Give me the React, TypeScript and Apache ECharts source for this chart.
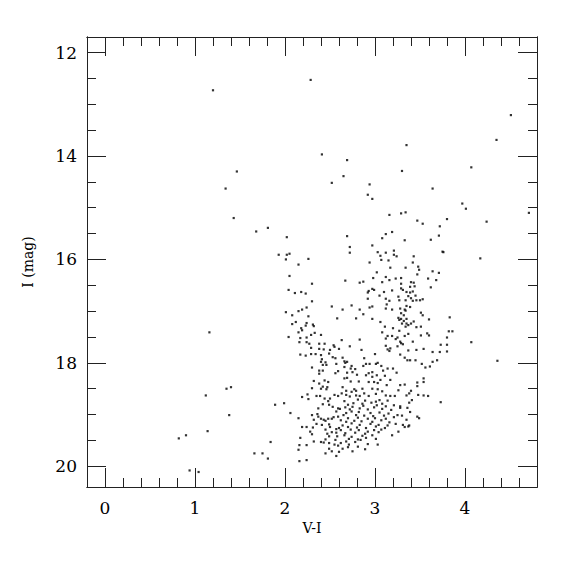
import React, { useEffect, useRef } from "react";
import * as echarts from "echarts";

// Axis tick values
const xMajorTicks = [0, 1, 2, 3, 4];
const xMinorTicks = [0.2, 0.4, 0.6, 0.8, 1.2, 1.4, 1.6, 1.8, 2.2, 2.4, 2.6, 2.8, 3.2, 3.4, 3.6, 3.8, 4.2, 4.4, 4.6];
const yMajorTicks = [12, 14, 16, 18, 20];
const yMinorTicks = [12.5, 13, 13.5, 14.5, 15, 15.5, 16.5, 17, 17.5, 18.5, 19, 19.5];

// Stars: [V-I, I]
const brightStars: [number, number][] = [
  [1.20, 12.73], [1.465, 14.30], [1.34, 14.63], [1.43, 15.20], [1.68, 15.46], [1.81, 15.39], [2.02, 15.57],
  [2.285, 12.53], [2.41, 13.97], [2.69, 14.08], [2.52, 14.52], [2.65, 14.39], [2.94, 14.55], [2.92, 14.75],
  [2.97, 14.83], [3.35, 13.79], [3.30, 14.29], [3.64, 14.63], [3.16, 15.14], [3.29, 15.11], [3.34, 15.09],
  [3.47, 15.25], [3.53, 15.31], [3.72, 15.36], [3.80, 15.22], [3.97, 14.92], [4.01, 15.02], [4.07, 14.22],
  [4.24, 15.27], [4.35, 13.69], [4.51, 13.21], [4.71, 15.10],
];

const blueStars: [number, number][] = [
  [1.16, 17.41], [1.12, 18.63], [1.35, 18.50], [1.40, 18.47], [1.38, 19.01], [1.14, 19.32], [0.82, 19.46],
  [0.90, 19.40], [0.94, 20.08], [1.04, 20.11],
  [1.89, 18.81], [1.99, 18.78], [2.06, 18.97], [2.15, 19.07], [1.84, 19.53], [1.66, 19.75], [1.75, 19.75],
  [1.81, 19.85],
];

const upperBranch: [number, number][] = [
  [1.93, 15.91], [2.02, 15.91], [2.05, 15.89], [2.01, 16.00], [2.26, 15.99], [2.15, 16.10], [2.05, 16.32],
  [2.30, 16.47], [2.04, 16.59], [2.11, 16.65], [2.18, 16.63], [2.23, 16.66], [2.30, 16.81], [2.52, 16.91],
  [2.58, 17.14], [2.01, 17.02], [2.08, 17.08], [2.15, 17.00], [2.19, 16.97], [2.24, 16.93], [2.26, 17.10],
  [2.12, 17.21], [2.24, 17.23], [2.08, 17.25], [2.23, 17.28], [2.31, 17.26], [2.32, 17.29], [2.18, 17.33],
  [2.69, 15.55], [3.12, 15.51], [3.19, 15.47], [3.08, 15.59], [3.33, 15.63], [3.62, 15.62], [3.71, 15.54],
  [2.72, 15.76], [2.72, 15.87], [2.97, 15.73], [3.03, 15.86], [3.12, 15.87], [3.21, 15.83], [3.21, 15.91],
  [3.24, 15.94], [3.06, 15.93], [3.07, 16.01], [3.15, 16.02], [2.94, 16.06], [3.43, 15.94], [3.42, 16.06],
  [3.48, 16.14], [3.34, 16.16], [3.17, 16.16], [3.49, 16.20], [3.02, 16.25], [3.47, 16.29], [3.64, 16.23],
  [3.71, 16.26], [2.67, 16.41], [2.83, 16.45], [2.87, 16.43], [2.98, 16.36], [3.12, 16.34], [3.16, 16.40],
  [3.23, 16.37], [3.29, 16.36], [3.08, 16.44], [3.29, 16.47], [3.40, 16.44], [3.43, 16.45], [3.59, 16.37],
  [3.68, 16.40], [3.62, 16.54], [2.93, 16.61], [2.92, 16.64], [2.97, 16.57], [2.99, 16.59], [3.10, 16.63],
  [3.19, 16.60], [3.29, 16.56], [3.31, 16.59], [3.39, 16.53], [3.44, 16.52], [3.35, 16.63], [3.39, 16.64],
  [3.42, 16.62], [3.05, 16.70], [3.12, 16.76], [3.16, 16.80], [3.26, 16.72], [3.27, 16.79], [3.34, 16.79],
  [3.37, 16.71], [3.40, 16.75], [3.45, 16.70], [3.42, 16.80], [3.46, 16.79], [3.50, 16.79], [3.53, 16.77],
  [2.92, 16.76], [2.64, 16.97], [2.74, 16.89], [2.83, 16.97], [2.94, 16.93], [2.97, 16.91], [3.13, 16.87],
  [3.12, 16.95], [3.19, 16.97], [3.28, 16.95], [3.33, 16.97], [3.35, 16.90], [3.39, 16.92], [3.29, 17.04],
  [3.32, 17.08], [3.34, 16.99], [3.51, 17.03], [3.53, 17.08], [2.87, 17.06], [2.79, 17.14], [2.97, 17.15],
  [3.06, 17.21], [3.11, 17.30], [3.20, 17.33], [3.26, 17.13], [3.29, 17.15], [3.27, 17.17], [3.32, 17.19],
  [3.35, 17.15], [3.30, 17.24], [3.35, 17.24], [3.37, 17.27], [3.40, 17.24], [3.43, 17.20], [3.34, 17.30],
  [3.51, 17.30], [3.60, 17.16], [3.46, 17.31],
  [3.75, 15.85], [3.76, 15.86], [4.17, 15.98], [3.83, 17.12], [3.82, 17.39], [3.86, 17.39], [3.80, 17.51],
  [3.73, 17.65], [3.80, 17.65], [3.72, 17.79], [3.80, 17.78], [4.07, 17.60], [4.36, 17.96], [3.73, 18.76],
];

const middleBranch: [number, number][] = [
  [2.15, 17.41], [2.19, 17.37], [2.33, 17.42], [2.40, 17.46], [2.29, 17.46], [2.24, 17.51], [2.04, 17.50],
  [2.17, 17.52], [2.16, 17.60], [2.24, 17.60], [2.27, 17.63], [2.38, 17.63], [2.44, 17.63], [2.54, 17.66],
  [2.55, 17.69], [2.60, 17.73], [2.29, 17.71], [2.38, 17.73], [2.43, 17.74], [2.50, 17.75], [2.17, 17.84],
  [2.23, 17.86], [2.29, 17.83], [2.34, 17.83], [2.40, 17.85], [2.49, 17.82], [2.53, 17.89], [2.56, 17.91],
  [2.41, 17.93], [2.45, 17.99], [2.40, 17.98], [2.42, 18.04], [2.46, 18.04], [2.57, 18.02], [2.30, 18.09],
  [2.38, 18.15], [2.42, 18.15], [2.38, 18.21], [2.59, 18.16], [2.56, 18.20], [2.32, 18.35], [2.38, 18.40],
  [2.44, 18.34], [2.48, 18.37], [2.42, 18.46], [2.40, 18.50], [2.47, 18.47], [2.46, 18.51], [2.30, 18.49],
  [2.19, 18.66], [2.25, 18.61], [2.35, 18.64], [2.39, 18.64], [2.44, 18.69], [2.50, 18.69], [2.55, 18.62],
  [2.59, 18.64], [2.26, 18.70],
  [3.08, 17.41], [3.14, 17.48], [3.19, 17.48], [3.25, 17.51], [3.27, 17.38], [3.12, 17.53], [3.23, 17.54],
  [3.29, 17.62], [3.28, 17.59], [3.33, 17.48], [3.37, 17.44], [3.51, 17.47], [3.58, 17.43], [3.60, 17.47],
  [2.83, 17.55], [2.63, 17.56], [2.72, 17.68], [2.85, 17.75], [3.12, 17.67], [3.14, 17.74], [3.17, 17.72],
  [3.16, 17.77], [3.25, 17.68], [3.31, 17.64], [3.42, 17.59], [3.46, 17.75], [3.37, 17.76], [3.54, 17.73],
  [3.64, 17.79], [3.28, 17.84], [3.33, 17.90], [3.39, 17.95], [3.36, 17.95], [3.45, 17.95], [3.69, 17.95],
  [3.64, 17.98], [3.61, 18.07], [3.56, 18.09], [3.52, 18.02], [2.64, 17.90], [2.66, 17.97], [2.67, 18.00],
  [2.69, 17.98], [2.74, 18.06], [2.66, 18.08], [2.73, 18.11], [2.78, 18.12], [2.75, 18.18], [2.69, 18.19],
  [2.80, 18.23], [2.69, 18.29], [2.66, 18.30], [2.73, 18.36], [2.82, 18.36], [2.88, 17.91], [2.90, 18.02],
  [2.87, 18.06], [2.94, 18.02], [3.01, 18.02], [3.03, 18.00], [3.07, 18.06], [3.00, 17.83], [3.09, 18.15],
  [3.14, 18.11], [3.20, 18.11], [3.24, 18.19], [2.97, 18.18], [2.93, 18.20], [2.90, 18.24], [2.97, 18.27],
  [3.02, 18.24], [2.99, 18.37], [2.93, 18.37], [3.03, 18.39], [3.06, 18.33], [3.11, 18.25], [3.17, 18.33],
  [3.13, 18.43], [3.28, 18.43], [3.26, 18.53], [3.33, 18.42], [3.47, 18.38], [3.54, 18.30], [3.54, 18.37],
  [3.47, 18.45], [3.40, 18.54], [3.48, 18.62], [3.54, 18.63], [3.59, 18.64], [2.64, 18.47], [2.68, 18.54],
  [2.63, 18.59], [2.68, 18.62], [2.74, 18.56], [2.79, 18.54], [2.77, 18.51], [2.86, 18.50], [2.88, 18.59],
  [2.83, 18.64], [2.79, 18.63], [2.97, 18.50], [3.03, 18.51], [3.08, 18.55], [3.01, 18.60], [2.93, 18.64],
  [3.12, 18.63], [3.17, 18.64], [3.22, 18.64], [3.35, 18.63], [3.38, 18.59], [2.72, 18.65],
];

const faintStars: [number, number][] = [
  [2.16, 19.90], [2.24, 19.88], [2.15, 19.68], [2.16, 19.59], [2.17, 19.45], [2.24, 19.59], [2.19, 19.24],
  [2.24, 19.24], [2.28, 19.33], [2.30, 19.38], [2.32, 19.52], [2.31, 19.25], [2.35, 19.18], [2.37, 19.04],
  [2.36, 18.99], [2.30, 19.01], [2.32, 19.10], [2.37, 18.88], [2.42, 18.80], [2.48, 18.74], [2.49, 18.81],
  [2.53, 18.85], [2.57, 18.94], [2.59, 18.88], [2.40, 19.08], [2.43, 19.10], [2.45, 19.12], [2.48, 19.08],
  [2.52, 19.08], [2.54, 19.05], [2.59, 19.04], [2.41, 19.20], [2.49, 19.19], [2.50, 19.24], [2.57, 19.28],
  [2.60, 19.26], [2.45, 19.29], [2.47, 19.37], [2.52, 19.34], [2.57, 19.35], [2.58, 19.42], [2.49, 19.42],
  [2.40, 19.53], [2.43, 19.54], [2.49, 19.55], [2.56, 19.49], [2.59, 19.60], [2.55, 19.58], [2.49, 19.66],
  [2.45, 19.75], [2.52, 19.71], [2.60, 19.72], [2.57, 19.80], [2.45, 19.48],
  [2.66, 18.74], [2.70, 18.81], [2.76, 18.78], [2.81, 18.71], [2.86, 18.79], [2.89, 18.73], [2.96, 18.77],
  [3.01, 18.75], [3.05, 18.72], [3.08, 18.79], [3.14, 18.73], [3.21, 18.82], [3.28, 18.84], [3.38, 18.77],
  [3.41, 18.72], [3.36, 18.87], [3.39, 18.95], [2.61, 18.89], [2.67, 18.86], [2.72, 18.90], [2.75, 18.85],
  [2.83, 18.88], [2.87, 18.83], [2.92, 18.90], [2.99, 18.86], [3.02, 18.82], [3.08, 18.89], [3.12, 18.84],
  [3.18, 18.91], [3.28, 18.87], [2.65, 19.01], [2.68, 18.97], [2.74, 18.94], [2.79, 19.01], [2.82, 18.95],
  [2.88, 19.02], [2.95, 18.97], [2.98, 19.03], [3.05, 18.96], [3.10, 19.02], [3.15, 18.98], [3.21, 19.05],
  [3.25, 19.01], [3.47, 19.04], [3.49, 19.07], [2.62, 19.11], [2.68, 19.14], [2.70, 19.07], [2.77, 19.12],
  [2.81, 19.06], [2.85, 19.13], [2.92, 19.08], [2.97, 19.14], [3.00, 19.07], [3.07, 19.11], [3.12, 19.08],
  [3.16, 19.15], [3.23, 19.18], [3.31, 19.20], [3.37, 19.23], [2.64, 19.21], [2.70, 19.24], [2.74, 19.17],
  [2.80, 19.25], [2.83, 19.20], [2.90, 19.26], [2.95, 19.18], [3.01, 19.23], [3.04, 19.20], [3.11, 19.26],
  [3.14, 19.21], [2.62, 19.30], [2.67, 19.36], [2.73, 19.29], [2.78, 19.35], [2.82, 19.30], [2.89, 19.37],
  [2.92, 19.33], [2.99, 19.30], [3.04, 19.34], [3.07, 19.29], [3.19, 19.40], [2.66, 19.40], [2.71, 19.47],
  [2.74, 19.43], [2.81, 19.48], [2.86, 19.41], [2.90, 19.45], [2.97, 19.40], [3.01, 19.47], [2.62, 19.55],
  [2.68, 19.52], [2.71, 19.58], [2.78, 19.53], [2.84, 19.49], [2.92, 19.57], [3.03, 19.58], [2.64, 19.66],
  [2.70, 19.63], [2.75, 19.71], [2.81, 19.62], [2.89, 19.67], [3.33, 19.24], [3.26, 19.33], [3.38, 19.21],
  [3.35, 19.10], [3.30, 19.02],
];

const allStars = [...brightStars, ...blueStars, ...upperBranch, ...middleBranch, ...faintStars];

const X_MIN = -0.2;
const X_MAX = 4.8;
const Y_MIN = 11.7;
const Y_MAX = 20.4;

const FONT = "DejaVu Serif";
const LINE = "#222";

export default function App() {
  const ref = useRef<HTMLDivElement>(null);
  useEffect(() => {
    if (!ref.current) return;
    const chart = echarts.init(ref.current, null, { renderer: "svg" });
    const xBase = (position: string, show: boolean, ticks: number[], len: number, name?: string) => ({
      type: "value",
      position,
      min: X_MIN,
      max: X_MAX,
      name: name || "",
      nameLocation: "middle",
      nameGap: 33,
      nameTextStyle: { fontFamily: FONT, fontSize: 14, color: "#000" },
      axisLine: { show: true, onZero: false, lineStyle: { color: LINE, width: 1 } },
      axisTick: { show: true, inside: true, length: len, customValues: ticks, lineStyle: { color: LINE, width: 1 } },
      axisLabel: {
        show,
        customValues: ticks,
        margin: 12,
        fontFamily: FONT,
        fontSize: 17,
        color: "#000",
      },
      splitLine: { show: false },
    });
    const yBase = (position: string, show: boolean, ticks: number[], len: number, name?: string) => ({
      type: "value",
      position,
      min: Y_MIN,
      max: Y_MAX,
      inverse: true,
      name: name || "",
      nameLocation: "middle",
      nameGap: 52,
      nameTextStyle: { fontFamily: FONT, fontSize: 14, color: "#000" },
      axisLine: { show: true, onZero: false, lineStyle: { color: LINE, width: 1 } },
      axisTick: { show: true, inside: true, length: len, customValues: ticks, lineStyle: { color: LINE, width: 1 } },
      axisLabel: {
        show,
        customValues: ticks,
        margin: 10,
        fontFamily: FONT,
        fontSize: 17,
        color: "#000",
      },
      splitLine: { show: false },
    });
    chart.setOption({
      animation: false,
      backgroundColor: "#fff",
      grid: { left: 87, top: 37, width: 450, height: 450, containLabel: false },
      xAxis: [
        xBase("bottom", true, xMajorTicks, 19, "V-I"),
        xBase("bottom", false, xMinorTicks, 9),
        xBase("top", false, xMajorTicks, 19),
        xBase("top", false, xMinorTicks, 9),
      ],
      yAxis: [
        yBase("left", true, yMajorTicks, 19, "I (mag)"),
        yBase("left", false, yMinorTicks, 9),
        yBase("right", false, yMajorTicks, 19),
        yBase("right", false, yMinorTicks, 9),
      ],
      series: [
        {
          type: "scatter",
          xAxisIndex: 0,
          yAxisIndex: 0,
          symbol: "rect",
          symbolSize: 2.2,
          itemStyle: { color: "#000" },
          data: allStars,
        },
      ],
    });
    return () => chart.dispose();
  }, []);
  return (
    <div
      ref={ref}
      style={{ position: "fixed", left: 0, top: 0, width: 575, height: 575, background: "#fff" }}
    />
  );
}
